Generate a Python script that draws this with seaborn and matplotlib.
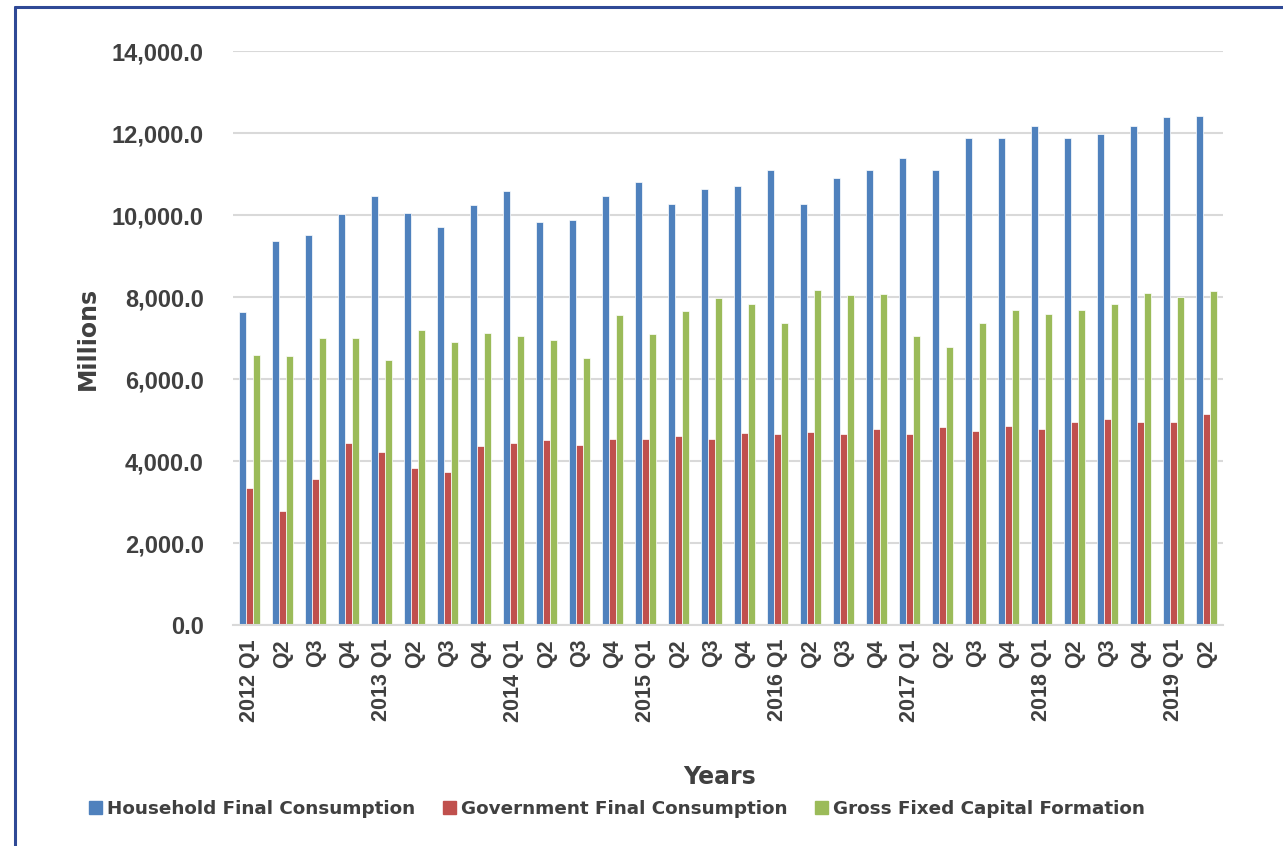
import pandas as pd
import matplotlib.pyplot as plt
import seaborn as sns
from matplotlib.lines import Line2D

# data (millions)
quarters = ['2012 Q1', 'Q2', 'Q3', 'Q4',
            '2013 Q1', 'Q2', 'Q3', 'Q4',
            '2014 Q1', 'Q2', 'Q3', 'Q4',
            '2015 Q1', 'Q2', 'Q3', 'Q4',
            '2016 Q1', 'Q2', 'Q3', 'Q4',
            '2017 Q1', 'Q2', 'Q3', 'Q4',
            '2018 Q1', 'Q2', 'Q3', 'Q4',
            '2019 Q1', 'Q2']
household = [7630, 9370, 9505, 10030, 10470, 10040, 9710, 10250,
             10590, 9840, 9880, 10470, 10810, 10280, 10640, 10710,
             11110, 10260, 10900, 11090, 11380, 11110, 11870, 11890,
             12160, 11870, 11980, 12160, 12380, 12410]
government = [3350, 2770, 3550, 4450, 4210, 3830, 3740, 4370,
              4450, 4510, 4400, 4540, 4540, 4600, 4530, 4690,
              4650, 4720, 4650, 4770, 4650, 4820, 4730, 4850,
              4790, 4940, 5030, 4960, 4940, 5140]
gross_fixed = [6580, 6560, 7000, 6990, 6460, 7190, 6900, 7120,
               7060, 6940, 6510, 7570, 7110, 7660, 7970, 7820,
               7360, 8170, 8060, 8080, 7060, 6770, 7360, 7680,
               7580, 7690, 7840, 8100, 8010, 8150]
series_names = ['Household Final Consumption', 'Government Final Consumption',
                'Gross Fixed Capital Formation']
colors = ['#4F81BD', '#C0504D', '#9BBB59']

# long form table for seaborn
pos = list(range(len(quarters)))
df = pd.concat([
    pd.DataFrame({'pos': pos, 'value': household, 'series': series_names[0]}),
    pd.DataFrame({'pos': pos, 'value': government, 'series': series_names[1]}),
    pd.DataFrame({'pos': pos, 'value': gross_fixed, 'series': series_names[2]}),
])

sns.set_style('white')
text_color = '#404040'

fig = plt.figure(figsize=(12.83, 8.46), dpi=100)
ax = fig.add_axes([0.1816, 0.2612, 0.7716, 0.6785])

sns.barplot(data=df, x='pos', y='value', hue='series', palette=colors, saturation=1,
            width=0.62, edgecolor='white', linewidth=0.5, ax=ax, legend=False)

ax.set_ylim(0, 14000)
ax.set_xlim(-0.5, len(quarters) - 0.5)
ax.set_yticks(range(0, 14001, 2000))
ax.set_yticklabels([f'{v:,.1f}' for v in range(0, 14001, 2000)],
                   fontsize=17, fontweight='bold', color=text_color,
                   family='Liberation Sans')
ax.set_xticks(pos)
ax.set_xticklabels(quarters, rotation=90, fontsize=15.5, fontweight='bold',
                   color=text_color, family='Liberation Sans', va='top')
ax.tick_params(axis='both', length=0)
ax.tick_params(axis='x', pad=10)
ax.tick_params(axis='y', pad=21)

ax.yaxis.grid(True, color='#D9D9D9', linewidth=1.5)
ax.set_axisbelow(True)
for s in ['top', 'right', 'left']:
    ax.spines[s].set_visible(False)
ax.spines['bottom'].set_color('#D9D9D9')
ax.spines['bottom'].set_linewidth(1.5)
ax.set_xlabel('')
ax.set_ylabel('')

# axis titles
fig.text(88 / 1283, 1 - 338 / 846, 'Millions', rotation=90, ha='center', va='center',
         fontsize=17, fontweight='bold', color=text_color, family='DejaVu Sans')
fig.text(720 / 1283, 1 - 777 / 846, 'Years', ha='center', va='center',
         fontsize=17, fontweight='bold', color=text_color, family='DejaVu Sans')

# legend
handles = [plt.Rectangle((0, 0), 1, 1, color=c) for c in colors]
fig.legend(handles, series_names, loc='center', bbox_to_anchor=(617 / 1283, 1 - 809 / 846),
           ncol=3, frameon=False, handlelength=0.7, handleheight=0.7,
           handletextpad=0.3, columnspacing=1.5,
           prop={'family': 'DejaVu Sans', 'size': 13.2, 'weight': 'semibold'},
           labelcolor=text_color)

# dark blue frame (partly cropped in the reference)
frame_color = '#2F4996'
fig.add_artist(Line2D([15 / 1283, 1.0], [1 - 7 / 846, 1 - 7 / 846],
                      color=frame_color, linewidth=2.2, transform=fig.transFigure))
fig.add_artist(Line2D([15 / 1283, 15 / 1283], [0.0, 1 - 7 / 846],
                      color=frame_color, linewidth=2.2, transform=fig.transFigure))

fig.savefig('out.png', dpi=100)
